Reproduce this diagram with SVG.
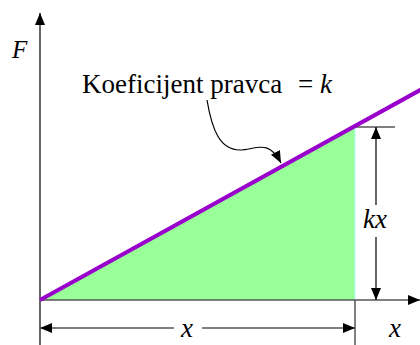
<svg xmlns="http://www.w3.org/2000/svg" width="420" height="345" viewBox="0 0 420 345">
<style>
.t{font-family:"Liberation Serif","Times New Roman",serif;fill:#000}
.i{font-style:italic}
.ln{stroke:#000;stroke-width:1.2;fill:none}
.gr{stroke:#555;stroke-width:1.5;fill:none}
</style>
<defs>
<marker id="ah" viewBox="0 0 12 10" refX="12" refY="5" markerWidth="12" markerHeight="10" markerUnits="userSpaceOnUse" orient="auto-start-reverse">
<path d="M0,0 L12,5 L0,10 Z" fill="#000"/>
</marker>
</defs>
<g id="area">
<polygon points="40,300 355,127 355,300" fill="#99ff99"/>
<line x1="355" y1="128" x2="355" y2="300" stroke="#aaffff" stroke-width="1"/>
</g>
<g id="connectors">
<line class="ln" x1="40" y1="345" x2="40" y2="13" marker-end="url(#ah)" stroke-width="1.5"/>
<line class="gr" x1="40" y1="300" x2="420" y2="300" marker-end="url(#ah)"/>
<line class="gr" x1="355" y1="300" x2="355" y2="345"/>
<line class="gr" x1="40" y1="328" x2="174" y2="328" marker-start="url(#ah)"/>
<line class="gr" x1="202" y1="328" x2="355" y2="328" marker-end="url(#ah)"/>
<line class="ln" x1="355" y1="127" x2="395" y2="127"/>
<line class="ln" x1="376" y1="205" x2="376" y2="127" marker-end="url(#ah)"/>
<line class="ln" x1="376" y1="237" x2="376" y2="300" marker-end="url(#ah)"/>
<path class="ln" d="M207,100 C212,130 220,150 240,150 C255,150 268,138 281,163" marker-end="url(#ah)"/>
</g>
<g id="line">
<line x1="40" y1="300" x2="422" y2="89" stroke="#9900cc" stroke-width="4"/>
</g>
<g id="labels">
<text class="t i" x="12" y="58" font-size="25">F</text>
<text class="t" x="82" y="93" font-size="27">Koeficijent pravca<tspan x="298">= </tspan><tspan class="i">k</tspan></text>
<text class="t i" x="363" y="228" font-size="27">kx</text>
<text class="t i" x="181" y="337" font-size="27">x</text>
<text class="t i" x="389" y="337" font-size="27">x</text>
</g>
</svg>
